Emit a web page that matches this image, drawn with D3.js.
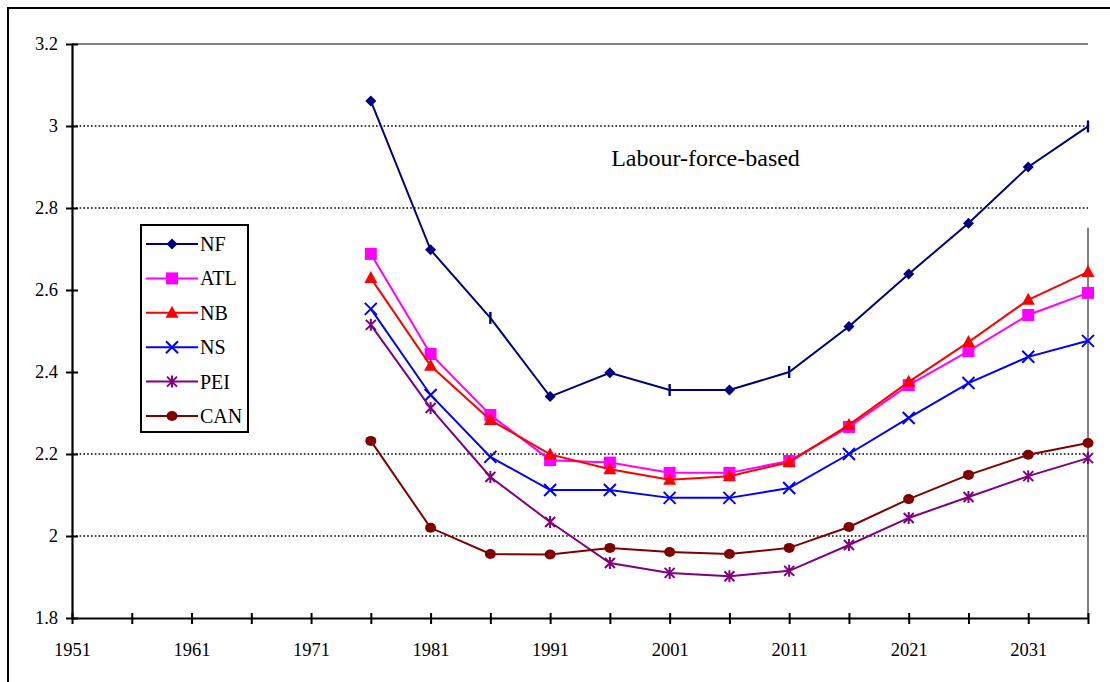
<!DOCTYPE html>
<html>
<head>
<meta charset="utf-8">
<script src="https://cdn.jsdelivr.net/npm/d3@7"></script>
<style>
  html, body { margin: 0; padding: 0; background: #fff; }
  svg { display: block; }
  text { font-family: "Liberation Serif", "Times New Roman", serif; fill: #000; }
</style>
</head>
<body>
<svg id="chart" width="1110" height="682"></svg>
<script>
// ---------- DATA ----------
const years = [1976, 1981, 1986, 1991, 1996, 2001, 2006, 2011, 2016, 2021, 2026, 2031, 2036];
const NF  = [3.061, 2.698, 2.532, 2.340, 2.398, 2.356, 2.356, 2.400, 2.511, 2.639, 2.763, 2.900, 2.999];
const ATL = [2.688, 2.444, 2.295, 2.185, 2.179, 2.154, 2.154, 2.183, 2.266, 2.368, 2.451, 2.539, 2.593];
const NB  = [2.629, 2.415, 2.283, 2.199, 2.163, 2.137, 2.146, 2.180, 2.271, 2.376, 2.473, 2.576, 2.644];
const NS  = [2.554, 2.344, 2.193, 2.112, 2.112, 2.093, 2.093, 2.117, 2.200, 2.288, 2.373, 2.437, 2.476];
const PEI = [2.515, 2.312, 2.144, 2.034, 1.934, 1.910, 1.902, 1.915, 1.978, 2.044, 2.095, 2.146, 2.190];
const CAN = [2.232, 2.020, 1.956, 1.955, 1.971, 1.961, 1.956, 1.971, 2.022, 2.090, 2.149, 2.198, 2.227];
// marker shapes as they appear on the NF line in the original
const nfMarkers = ["diamond","diamond","bar","diamond","diamond","bar","diamond","bar","diamond","diamond","diamond","diamond","bar"];

const seriesNames  = ["NF", "ATL", "NB", "NS", "PEI", "CAN"];
const seriesColors = ["#000080", "#FF00FF", "#FF0000", "#0000FF", "#800080", "#800000"];
const seriesShapes = ["diamond", "square", "triangle", "x", "star", "circle"];
const seriesValues = [NF, ATL, NB, NS, PEI, CAN];

const xTicks = [1951, 1956, 1961, 1966, 1971, 1976, 1981, 1986, 1991, 1996, 2001, 2006, 2011, 2016, 2021, 2026, 2031, 2036];
const xTickLabels = [1951, 1961, 1971, 1981, 1991, 2001, 2011, 2021, 2031];
const yTicks = [1.8, 2.0, 2.2, 2.4, 2.6, 2.8, 3.0, 3.2];
const gridValues = [2.0, 2.2, 2.8, 3.0];
const annotation = "Labour-force-based";

// ---------- LAYOUT ----------
const svg = d3.select("#chart");
const L = 72, R = 1088, T = 44, B = 618;
const x = d3.scaleLinear().domain([1951, 2036]).range([L, R]);
const y = d3.scaleLinear().domain([1.8, 3.2]).range([B, T]);

// outer frame
svg.append("rect").attr("x", 8).attr("y", 8).attr("width", 1200).attr("height", 800)
  .attr("fill", "none").attr("stroke", "#000").attr("stroke-width", 2);

// gridlines
svg.append("g").selectAll("line").data(gridValues).join("line")
  .attr("x1", L).attr("x2", R)
  .attr("y1", d => y(d)).attr("y2", d => y(d))
  .attr("stroke", "#000").attr("stroke-width", 1.4).attr("stroke-dasharray", "1.6,2.2");

// plot-area top border and partial right border (gray)
svg.append("line").attr("x1", L).attr("x2", R).attr("y1", y(3.2)).attr("y2", y(3.2))
  .attr("stroke", "#808080").attr("stroke-width", 2);
svg.append("line").attr("x1", R).attr("x2", R).attr("y1", y(2.752)).attr("y2", y(1.8))
  .attr("stroke", "#808080").attr("stroke-width", 2);

// axes
const yAxis = d3.axisLeft(y).tickValues(yTicks).tickFormat(d3.format("~g")).tickSizeInner(6).tickSizeOuter(0).tickPadding(8);
const yg = svg.append("g").attr("transform", `translate(${L},0)`).call(yAxis);
yg.select(".domain").attr("stroke", "#000").attr("stroke-width", 2.2);
yg.selectAll(".tick line").attr("x2", 6).attr("x1", -6).attr("stroke-width", 2);
yg.selectAll(".tick text").attr("font-size", 18.5).attr("font-family", "Liberation Serif").attr("x", -14);

const xAxis = d3.axisBottom(x).tickValues(xTicks)
  .tickFormat(d => xTickLabels.includes(d) ? d : "").tickSizeInner(6).tickSizeOuter(0).tickPadding(14);
const xg = svg.append("g").attr("transform", `translate(0,${B})`).call(xAxis);
xg.select(".domain").attr("stroke", "#000").attr("stroke-width", 2.2);
xg.selectAll(".tick line").attr("y1", -5).attr("y2", 6).attr("stroke-width", 2);
xg.selectAll(".tick text").attr("font-size", 18.5).attr("font-family", "Liberation Serif").attr("dy", "0.95em");

// marker drawing
function drawMarker(g, shape, cx, cy, color) {
  const s = 5.5;
  if (shape === "diamond") {
    g.append("path").attr("d", `M${cx},${cy - s} L${cx + s},${cy} L${cx},${cy + s} L${cx - s},${cy} Z`).attr("fill", color);
  } else if (shape === "bar") {
    g.append("line").attr("x1", cx).attr("x2", cx).attr("y1", cy - 6).attr("y2", cy + 6)
      .attr("stroke", color).attr("stroke-width", 2.4);
  } else if (shape === "square") {
    g.append("rect").attr("x", cx - 6).attr("y", cy - 6).attr("width", 12).attr("height", 12).attr("fill", color);
  } else if (shape === "triangle") {
    g.append("path").attr("d", `M${cx},${cy - 7} L${cx + 6.5},${cy + 5} L${cx - 6.5},${cy + 5} Z`).attr("fill", color);
  } else if (shape === "x") {
    g.append("path").attr("d", `M${cx - 6},${cy - 6} L${cx + 6},${cy + 6} M${cx - 6},${cy + 6} L${cx + 6},${cy - 6}`)
      .attr("stroke", color).attr("stroke-width", 2).attr("fill", "none");
  } else if (shape === "star") {
    g.append("path").attr("d", `M${cx - 5},${cy - 5} L${cx + 5},${cy + 5} M${cx - 5},${cy + 5} L${cx + 5},${cy - 5} M${cx},${cy - 6} L${cx},${cy + 6}`)
      .attr("stroke", color).attr("stroke-width", 2).attr("fill", "none");
  } else if (shape === "circle") {
    g.append("ellipse").attr("cx", cx).attr("cy", cy).attr("rx", 5.5).attr("ry", 5).attr("fill", color);
  }
}

// series
const line = d3.line().x((d, i) => x(years[i])).y(d => y(d));
seriesNames.forEach((name, k) => {
  const g = svg.append("g").attr("class", "series-" + name);
  const vals = seriesValues[k];
  g.append("path").datum(vals).attr("d", line)
    .attr("fill", "none").attr("stroke", seriesColors[k]).attr("stroke-width", 2);
  vals.forEach((v, i) => {
    const shape = name === "NF" ? nfMarkers[i] : seriesShapes[k];
    drawMarker(g, shape, x(years[i]), y(v), seriesColors[k]);
  });
});

// annotation
svg.append("text").attr("x", x(2004)).attr("y", y(2.902)).attr("text-anchor", "middle")
  .attr("font-size", 24).text(annotation);

// legend
const lg = svg.append("g");
lg.append("rect").attr("x", 141).attr("y", 225).attr("width", 107).attr("height", 207)
  .attr("fill", "#fff").attr("stroke", "#000").attr("stroke-width", 2);
seriesNames.forEach((name, k) => {
  const ly = 244 + k * 34.4;
  lg.append("line").attr("x1", 146).attr("x2", 198).attr("y1", ly).attr("y2", ly)
    .attr("stroke", seriesColors[k]).attr("stroke-width", 2);
  drawMarker(lg, seriesShapes[k], 172, ly, seriesColors[k]);
  lg.append("text").attr("x", 200).attr("y", ly).attr("dy", "0.35em").attr("font-size", 20).text(name);
});
</script>
</body>
</html>
